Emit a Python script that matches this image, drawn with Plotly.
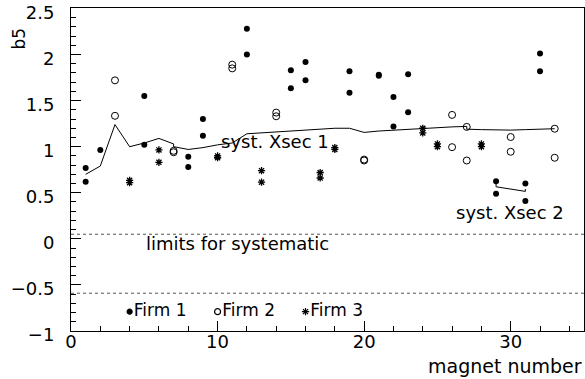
import plotly.graph_objects as go

# Firm 1 (filled circles)
firm1_x = [1, 1, 2, 5, 5, 8, 8, 9, 9, 12, 12, 15, 15, 16, 16, 19, 19, 21, 21, 22, 22, 23, 23, 29, 29, 31, 31, 32, 32]
firm1_y = [0.77, 0.62, 0.965, 1.55, 1.02, 0.89, 0.78, 1.30, 1.12, 2.28, 2.00, 1.83, 1.635, 1.92, 1.72,
           1.82, 1.585, 1.78, 1.77, 1.54, 1.22, 1.785, 1.375, 0.625, 0.49, 0.60, 0.41, 2.01, 1.82]

# Firm 2 (open circles)
firm2_x = [3, 3, 7, 7, 11, 11, 14, 14, 20, 20, 26, 26, 27, 27, 30, 30, 33, 33]
firm2_y = [1.72, 1.335, 0.94, 0.955, 1.85, 1.89, 1.33, 1.37, 0.85, 0.86, 1.345, 0.995, 1.215, 0.85,
           1.105, 0.945, 1.195, 0.88]

# Firm 3 (stars)
firm3_x = [4, 4, 6, 6, 10, 10, 13, 13, 17, 17, 18, 18, 24, 24, 25, 25, 28, 28]
firm3_y = [0.61, 0.635, 0.965, 0.83, 0.88, 0.90, 0.74, 0.615, 0.72, 0.66, 0.97, 0.99, 1.20, 1.15,
           1.00, 1.03, 1.00, 1.03]

# systematic cross-section curves
xsec1_x = [1, 2, 3, 4, 5, 6, 7, 7, 8, 9, 10, 11, 12, 13, 14, 15, 16, 17, 18, 19, 20, 21, 22, 23, 24,
           25, 26, 27, 27, 28, 29, 30, 31, 32, 33]
xsec1_y = [0.70, 0.79, 1.24, 1.00, 1.04, 1.09, 1.03, 1.00, 0.97, 0.99, 1.02, 1.04, 1.14, 1.15, 1.16,
           1.17, 1.18, 1.19, 1.20, 1.20, 1.155, 1.17, 1.18, 1.19, 1.195, 1.21, 1.215, 1.22, 1.19,
           1.185, 1.18, 1.18, 1.185, 1.19, 1.195]
xsec2_x = [29, 29, 31, 31]
xsec2_y = [0.61, 0.565, 0.515, 0.54]

# limits for systematic
limit_levels = [0.05, -0.59]
x_range = [0, 35]
y_range = [-1, 2.505]

# in-frame legend
legend_x = [4, 10, 16]
legend_y = [-0.79, -0.79, -0.79]
legend_text = ["Firm 1", "Firm 2", "Firm 3"]

FONT = "DejaVu Sans"
fig = go.Figure()

for lv in limit_levels:
    fig.add_trace(go.Scatter(x=x_range, y=[lv, lv], mode="lines",
                             line=dict(color="#555555", width=1, dash="dot"),
                             hoverinfo="skip"))

fig.add_trace(go.Scatter(x=xsec1_x, y=xsec1_y, mode="lines",
                         line=dict(color="black", width=1)))
fig.add_trace(go.Scatter(x=xsec2_x, y=xsec2_y, mode="lines",
                         line=dict(color="black", width=1)))

fig.add_trace(go.Scatter(x=firm1_x, y=firm1_y, mode="markers",
                         marker=dict(symbol="circle", size=6, color="black")))
fig.add_trace(go.Scatter(x=firm2_x, y=firm2_y, mode="markers",
                         marker=dict(symbol="circle-open", size=7, color="black",
                                     line=dict(width=1, color="black"))))
fig.add_trace(go.Scatter(x=firm3_x, y=firm3_y, mode="markers",
                         marker=dict(symbol="asterisk-open", size=6, color="black",
                                     line=dict(width=1.3, color="black"))))

legend_symbols = ["circle", "circle-open", "asterisk-open"]
legend_sizes = [5, 6, 6]
for lx, ly, lt, sym, sz in zip(legend_x, legend_y, legend_text, legend_symbols, legend_sizes):
    fig.add_trace(go.Scatter(x=[lx], y=[ly], mode="markers+text", text=[lt],
                             textposition="middle right",
                             textfont=dict(family=FONT, size=17, color="black"),
                             marker=dict(symbol=sym, size=sz, color="black",
                                         line=dict(width=1.2, color="black"))))

annots = [
    dict(x=10.1, y=1.06, text="syst. Xsec 1", xanchor="left", yanchor="middle", size=18),
    dict(x=26.1, y=0.29, text="syst. Xsec 2", xanchor="left", yanchor="middle", size=18),
    dict(x=5.0, y=-0.05, text="limits for systematic", xanchor="left", yanchor="middle", size=18),
]
for a in annots:
    fig.add_annotation(x=a["x"], y=a["y"], xref="x", yref="y", text=a["text"],
                       xanchor=a["xanchor"], yanchor=a["yanchor"], showarrow=False,
                       font=dict(family=FONT, size=a["size"], color="black"))

fig.add_annotation(x=1.0, y=-0.107, xref="paper", yref="paper", text="magnet number",
                   xanchor="right", yanchor="middle", showarrow=False,
                   font=dict(family=FONT, size=19, color="black"))
fig.add_annotation(x=-0.101, y=0.906, xref="paper", yref="paper", text="b5", textangle=-90,
                   xanchor="center", yanchor="middle", showarrow=False,
                   font=dict(family=FONT, size=17, color="black"))

fig.update_layout(
    width=585, height=379,
    margin=dict(l=71, r=1, t=8, b=48, autoexpand=False),
    paper_bgcolor="white", plot_bgcolor="white",
    showlegend=False,
    font=dict(family=FONT, size=18, color="black"),
)
fig.update_xaxes(range=x_range, showgrid=False, zeroline=False, automargin=False,
                 showline=True, mirror=True, linecolor="black", linewidth=1,
                 ticks="inside", ticklen=10, tickwidth=1, tickcolor="black",
                 tickvals=[0, 10, 20, 30], ticklabelstandoff=-6,
                 minor=dict(ticks="inside", ticklen=5, dtick=2, tick0=0, tickcolor="black"))
fig.update_yaxes(range=y_range, showgrid=False, zeroline=False, automargin=False,
                 showline=True, mirror=True, linecolor="black", linewidth=1,
                 ticks="inside", ticklen=10, tickwidth=1, tickcolor="black",
                 tickvals=[-1, -0.5, 0, 0.5, 1, 1.5, 2, 2.5], ticklabelstandoff=12,
                 ticklabelshift=4, ticklabeloverflow="allow",
                 minor=dict(ticks="inside", ticklen=5, dtick=0.1, tick0=0, tickcolor="black"))

fig.write_html("out.html", config={"displayModeBar": False},
               post_script="document.body.style.margin='0';")
